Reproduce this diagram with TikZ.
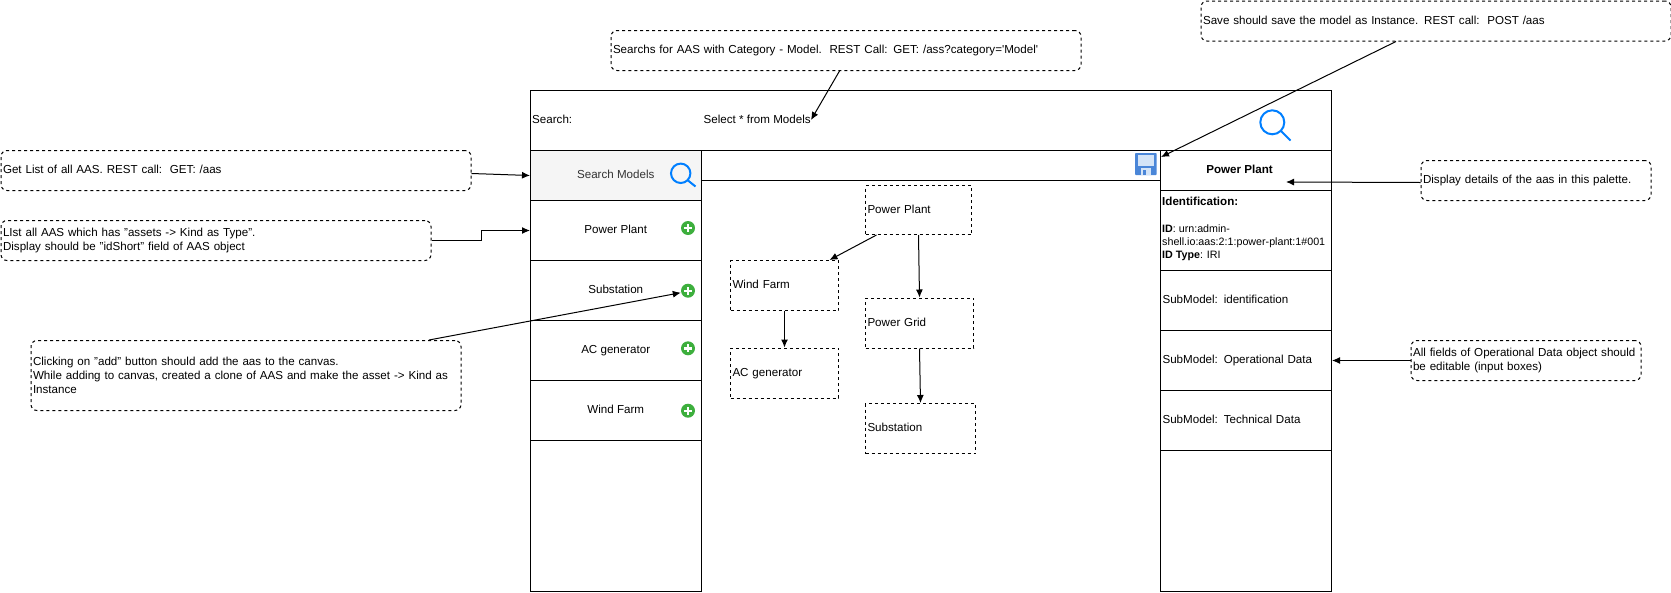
\documentclass[tikz,border=0pt]{standalone}
\usepackage{fontspec}
\setmainfont{Liberation Sans}
\usepackage{xcolor}
\usetikzlibrary{calc, positioning, arrows.meta}

\definecolor{searchblue}{HTML}{007FFF}
\definecolor{addgreen}{HTML}{3DAF3D}
\definecolor{savedark}{HTML}{4A86D8}
\definecolor{savelight}{HTML}{D4E4F7}
\definecolor{rowgray}{HTML}{F5F5F5}
\definecolor{rowtext}{HTML}{333333}

\newcommand{\bodyfont}{\fontsize{11.6}{14}\selectfont}

\tikzset{
    note/.style={draw, dashed, dash pattern=on 3pt off 3pt, rounded corners=6pt, line width=1pt,
        anchor=north west, align=left, inner sep=2pt, font=\bodyfont},
    oneline/.style={text height=9pt, text depth=3pt},
    wirebox/.style={draw, line width=1pt, anchor=north west, inner sep=2pt, font=\bodyfont},
    canvasbox/.style={draw, dashed, dash pattern=on 3pt off 3pt, line width=1pt, anchor=north west,
        align=left, inner sep=2pt, font=\bodyfont, oneline},
    addbtn/.style={circle, fill=addgreen, minimum size=14pt, inner sep=0pt},
    link/.style={->, line width=1pt}
}

\begin{document}
\begin{tikzpicture}[>={Latex[length=8pt,width=7pt]}, x=1pt, y=-1pt]
    \useasboundingbox (0,0) rectangle (1671,592);

    % Thanh tim kiem
    \node[wirebox, minimum width=801pt, minimum height=60pt] (frame) at (530,90) {};
    \node[anchor=west, inner sep=2pt, font=\bodyfont, oneline] (searchLabel) at (530,120) {Search:};
    \node[anchor=west, inner sep=0pt, font=\bodyfont, oneline] (selectLabel) at (703.5,120) {Select * from Models};

    % Cot trai
    \node[wirebox, oneline, fill=rowgray, text=rowtext, minimum width=170.5pt, minimum height=50pt] (searchRow) at (530,150) {Search Models};
    \node[wirebox, oneline, minimum width=170.5pt, minimum height=60pt] (plantRow) at (530,200) {Power Plant};
    \node[wirebox, oneline, minimum width=170.5pt, minimum height=60pt] (stationRow) at (530,260) {Substation};
    \node[wirebox, oneline, minimum width=170.5pt, minimum height=60pt] (acRow) at (530,320) {AC generator};
    \node[wirebox, oneline, minimum width=170.5pt, minimum height=60pt] (windRow) at (530,380) {Wind Farm};
    \node[wirebox, minimum width=170.5pt, minimum height=150.5pt] (restRow) at (530,440) {};

    % Nut them
    \foreach \y/\name in {228/plantAdd, 290.7/stationAdd, 348.3/acAdd, 410.7/windAdd} {
        \node[addbtn] (\name) at (688,\y) {};
        \fill[white] (\name.center) ++(-4,-1.2) rectangle ++(8,2.4);
        \fill[white] (\name.center) ++(-1.2,-4) rectangle ++(2.4,8);
    }

    % Kinh lup
    \draw[searchblue, line width=2pt] (680.7,173.3) circle (9.7);
    \draw[searchblue, line width=2pt] (687.6,180.2) -- (695.5,186.5);
    \draw[searchblue, line width=2pt] (1272.3,122.3) circle (12);
    \draw[searchblue, line width=2pt] (1281,131) -- (1290.5,140.5);

    % Thanh tren cua vung ve
    \node[wirebox, minimum width=459.5pt, minimum height=30pt] (canvasBar) at (700.5,150) {};

    % Bieu tuong luu
    \fill[savedark, rounded corners=0.8pt] (1135,153) rectangle (1156.7,175);
    \fill[savelight] (1138,154.5) rectangle (1153.5,165.5);
    \fill[savelight] (1141,168) rectangle (1151,175);
    \fill[savedark] (1142.5,169.5) rectangle (1145.5,175);

    % Cot phai
    \node[wirebox, oneline, minimum width=171pt, minimum height=40pt, font=\bodyfont\bfseries] (titleRow) at (1160,150) {\hspace*{-13pt}Power Plant};
    \node[wirebox, minimum width=171pt, minimum height=80pt] (identRow) at (1160,190) {};
    \node[anchor=north west, align=left, inner sep=0pt, font=\fontsize{10.7}{13}\selectfont] (identText) at (1162,197) {{\bodyfont\bfseries Identification:}\\[14pt]\textbf{ID}: urn:admin-\\shell.io:aas:2:1:power-plant:1\#001\\\textbf{ID Type}: IRI};
    \node[wirebox, oneline, minimum width=171pt, minimum height=60pt, text width=167pt, align=left] (identSub) at (1160,270) {SubModel: identification};
    \node[wirebox, oneline, minimum width=171pt, minimum height=60pt, text width=167pt, align=left] (operSub) at (1160,330) {SubModel: Operational Data};
    \node[wirebox, oneline, minimum width=171pt, minimum height=60pt, text width=167pt, align=left] (techSub) at (1160,390) {SubModel: Technical Data};
    \node[wirebox, minimum width=171pt, minimum height=140.5pt] (restSub) at (1160,450) {};

    % Cac o tren vung ve
    \node[canvasbox, minimum width=106pt, minimum height=49pt, text width=102pt] (plantBox) at (865,185) {Power Plant};
    \node[canvasbox, minimum width=108pt, minimum height=50pt, text width=104pt] (windBox) at (730,260) {Wind Farm};
    \node[canvasbox, minimum width=108pt, minimum height=50pt, text width=104pt] (gridBox) at (865,297.5) {Power Grid};
    \node[canvasbox, minimum width=108pt, minimum height=50pt, text width=104pt] (acBox) at (730,347.5) {AC generator};
    \node[canvasbox, minimum width=110pt, minimum height=50pt, text width=106pt] (stationBox) at (865,403) {Substation};

    \draw[link] ([xshift=-42pt]plantBox.south) -- ([xshift=45pt]windBox.north);
    \draw[link] (plantBox.south) -- (gridBox.north);
    \draw[link] (windBox.south) -- (acBox.north);
    \draw[link] (gridBox.south) -- (stationBox.north);

    % Ghi chu
    \node[note, oneline, minimum width=470pt, minimum height=40pt, text width=466pt] (saveNote) at (1200.5,0.5) {Save should save the model as Instance. REST call:\ \ POST /aas};
    \node[note, oneline, minimum width=470pt, minimum height=40pt, text width=466pt] (searchNote) at (610.5,30) {Searchs for AAS with Category - Model.\ \ REST Call: GET: /ass?category=\textquotesingle Model\textquotesingle};
    \node[note, oneline, minimum width=470pt, minimum height=40pt, text width=466pt] (getNote) at (0.5,150) {Get List of all AAS. REST call:\ \ GET: /aas};
    \node[note, minimum width=430pt, minimum height=40pt, text width=426pt] (listNote) at (0.5,220) {LIst all AAS which has "assets -> Kind as Type".\\Display should be "idShort" field of AAS object};
    \node[note, minimum width=430pt, minimum height=70pt, text width=426pt] (clickNote) at (30.5,340) {Clicking on "add" button should add the aas to the canvas.\\While adding to canvas, created a clone of AAS and make the asset -> Kind as\\Instance};
    \node[note, oneline, minimum width=230pt, minimum height=40pt, text width=226pt] (displayNote) at (1420.5,160) {Display details of the aas in this palette.};
    \node[note, minimum width=230pt, minimum height=40pt, text width=226pt] (fieldsNote) at (1410.5,340) {All fields of Operational Data object should\\be editable (input boxes)};

    % Mui ten tu ghi chu
    \coordinate (selectTip) at (811,120);
    \coordinate (saveTip) at (1161,157);
    \coordinate (titleTip) at (1286,182);
    \draw[link] ([xshift=-6.5pt]searchNote.south) -- (selectTip);
    \draw[link] ([xshift=-40pt]saveNote.south) -- (saveTip);
    \draw[link] ([yshift=-3pt]getNote.east) -- (searchRow.west);
    \draw[link] (listNote.east) -- ++(50,0) |- (plantRow.west);
    \draw[link] ([xshift=183pt]clickNote.north) -- ([yshift=-2pt]stationAdd.west);
    \draw[link] ([yshift=-2pt]displayNote.west) -- (titleTip);
    \draw[link] (fieldsNote.west) -- (operSub.east);
\end{tikzpicture}
\end{document}
